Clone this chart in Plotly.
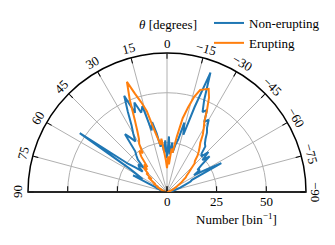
import math
import plotly.graph_objects as go

# ---- data (theta in degrees, left -> right; r = number per bin) ----
theta = list(range(90, -91, -2))

erupting_r = [
    0, 0, 1, 0, 1, 1, 2, 1, 2, 3,
    2, 4, 3, 5, 6, 5, 8, 7, 9, 12,
    10, 14, 13, 17, 15, 18, 16, 22, 25, 23,
    28, 30, 34, 40, 50, 59, 52, 47, 42, 33,
    28, 24, 27, 20, 16, 12, 18, 14, 22, 20,
    28, 38, 44, 50, 54, 55, 56, 52, 46, 40,
    37, 34, 30, 28, 26, 24, 21, 20, 17, 15,
    13, 12, 10, 9, 7, 6, 5, 4, 3, 3,
    2, 2, 1, 1, 1, 0, 1, 0, 0, 0,
    0,
]

non_erupting_r = [
    0, 1, 0, 1, 2, 1, 3, 2, 4, 3,
    6, 5, 8, 19, 14, 17, 22, 53, 24, 20,
    16, 19, 20, 17, 22, 24, 26, 36, 33, 30,
    34, 38, 45, 53, 43, 48, 42, 45, 32, 36,
    30, 23, 26, 20, 26, 17, 28, 19, 25, 20,
    24, 27, 36, 30, 45, 64, 50, 44, 46, 40,
    42, 38, 36, 33, 31, 30, 26, 25, 29, 24,
    28, 22, 19, 20, 16, 22, 31, 14, 13, 10,
    8, 7, 5, 4, 3, 2, 2, 1, 1, 0,
    0,
]

angular_ticks = list(range(-90, 91, 15))
angular_ticktext = [("\u2212" + str(-t)) if t < 0 else str(t) for t in angular_ticks]
radial_ticks = [0, 25, 50]
radial_ticktext = ["0", "25", "50"]
radial_max = 70

FONT = "Liberation Serif"
FS = 13
# page has an 8px body margin; size the figure so the page is exactly 335x245
W, H = 319, 229
ML, MR, MT, MB = 20, 21, 45, 45
plot_w = W - ML - MR
plot_h = H - MT - MB
R = plot_h
cx = ML + R
cy = MT + R


def to_paper(fx, fy):
    return (fx - ML) / plot_w, (MT + plot_h - fy) / plot_h


fig = go.Figure()
fig.add_trace(go.Scatterpolar(r=non_erupting_r, theta=theta, mode="lines",
                              name="Non-erupting",
                              line=dict(color="#1f77b4", width=2)))
fig.add_trace(go.Scatterpolar(r=erupting_r, theta=theta, mode="lines",
                              name="Erupting",
                              line=dict(color="#ff7f0e", width=2)))
# invisible trace so the second polar (left edge of the half disc) is rendered
fig.add_trace(go.Scatterpolar(r=[0], theta=[0], mode="markers", subplot="polar2",
                              marker=dict(opacity=0), showlegend=False,
                              hoverinfo="skip"))

common_polar = dict(
    domain=dict(x=[0, 1], y=[0, 1]),
    sector=[0, 180],
    bgcolor="rgba(0,0,0,0)",
)

fig.update_layout(
    width=W, height=H,
    margin=dict(l=ML, r=MR, t=MT, b=MB, autoexpand=False),
    paper_bgcolor="white",
    font=dict(family=FONT, size=FS, color="black"),
    polar=dict(
        **common_polar,
        angularaxis=dict(
            rotation=90, direction="counterclockwise",
            tickmode="array", tickvals=angular_ticks,
            showticklabels=False,
            ticks="inside", ticklen=5, tickcolor="black", tickwidth=1,
            showline=True, linecolor="black", linewidth=1.5,
            showgrid=True, gridcolor="#b0b0b0", gridwidth=1,
            layer="below traces",
        ),
        radialaxis=dict(
            range=[0, radial_max], angle=0, side="clockwise",
            tickmode="array", tickvals=radial_ticks,
            showticklabels=False,
            ticks="inside", ticklen=5, tickcolor="black", tickwidth=1,
            showline=True, linecolor="#222", linewidth=1.5,
            showgrid=True, gridcolor="#b0b0b0", gridwidth=1,
            layer="below traces",
        ),
    ),
    polar2=dict(
        **common_polar,
        angularaxis=dict(
            rotation=90, direction="counterclockwise",
            showticklabels=False, ticks="", showline=False, showgrid=False,
        ),
        radialaxis=dict(
            range=[0, radial_max], angle=180, side="counterclockwise",
            tickmode="array", tickvals=radial_ticks,
            showticklabels=False,
            ticks="inside", ticklen=5, tickcolor="black", tickwidth=1,
            showline=True, linecolor="#222", linewidth=1.5,
            showgrid=False,
        ),
    ),
    legend=dict(
        x=to_paper(201, 0)[0], y=to_paper(0, 0)[1],
        xanchor="left", yanchor="top",
        bgcolor="rgba(0,0,0,0)", borderwidth=0,
        font=dict(family=FONT, size=FS),
        tracegroupgap=0,
    ),
)

annotations = []
# rotated angular tick labels, just outside the arc
d = 10
for t, txt in zip(angular_ticks, angular_ticktext):
    a = math.radians(90 + t)
    px = cx + (R + d) * math.cos(a)
    py = cy - (R + d) * math.sin(a)
    x, y = to_paper(px, py)
    annotations.append(dict(
        x=x, y=y, xref="paper", yref="paper",
        text=txt, showarrow=False, xanchor="center", yanchor="middle",
        textangle=-t, font=dict(family=FONT, size=FS),
    ))
# radial tick labels below the baseline
for v, txt in zip(radial_ticks, radial_ticktext):
    x, y = to_paper(cx + v * R / radial_max, cy + 9.5)
    annotations.append(dict(x=x, y=y, xref="paper", yref="paper", text=txt,
                            showarrow=False, xanchor="center", yanchor="middle",
                            font=dict(family=FONT, size=FS)))
x, y = to_paper(cx + 1, 17)
annotations.append(dict(x=x, y=y, xref="paper", yref="paper", showarrow=False,
                        text="<i>θ</i> [degrees]",
                        xanchor="center", yanchor="middle",
                        font=dict(family=FONT, size=FS)))
x, y = to_paper(cx + 0.5 * R, cy + 27)
annotations.append(dict(x=x, y=y, xref="paper", yref="paper", showarrow=False,
                        text="Number [bin<sup>\u22121</sup>]",
                        xanchor="center", yanchor="middle",
                        font=dict(family=FONT, size=FS)))
fig.update_layout(annotations=annotations)

fig.write_html("out.html")
